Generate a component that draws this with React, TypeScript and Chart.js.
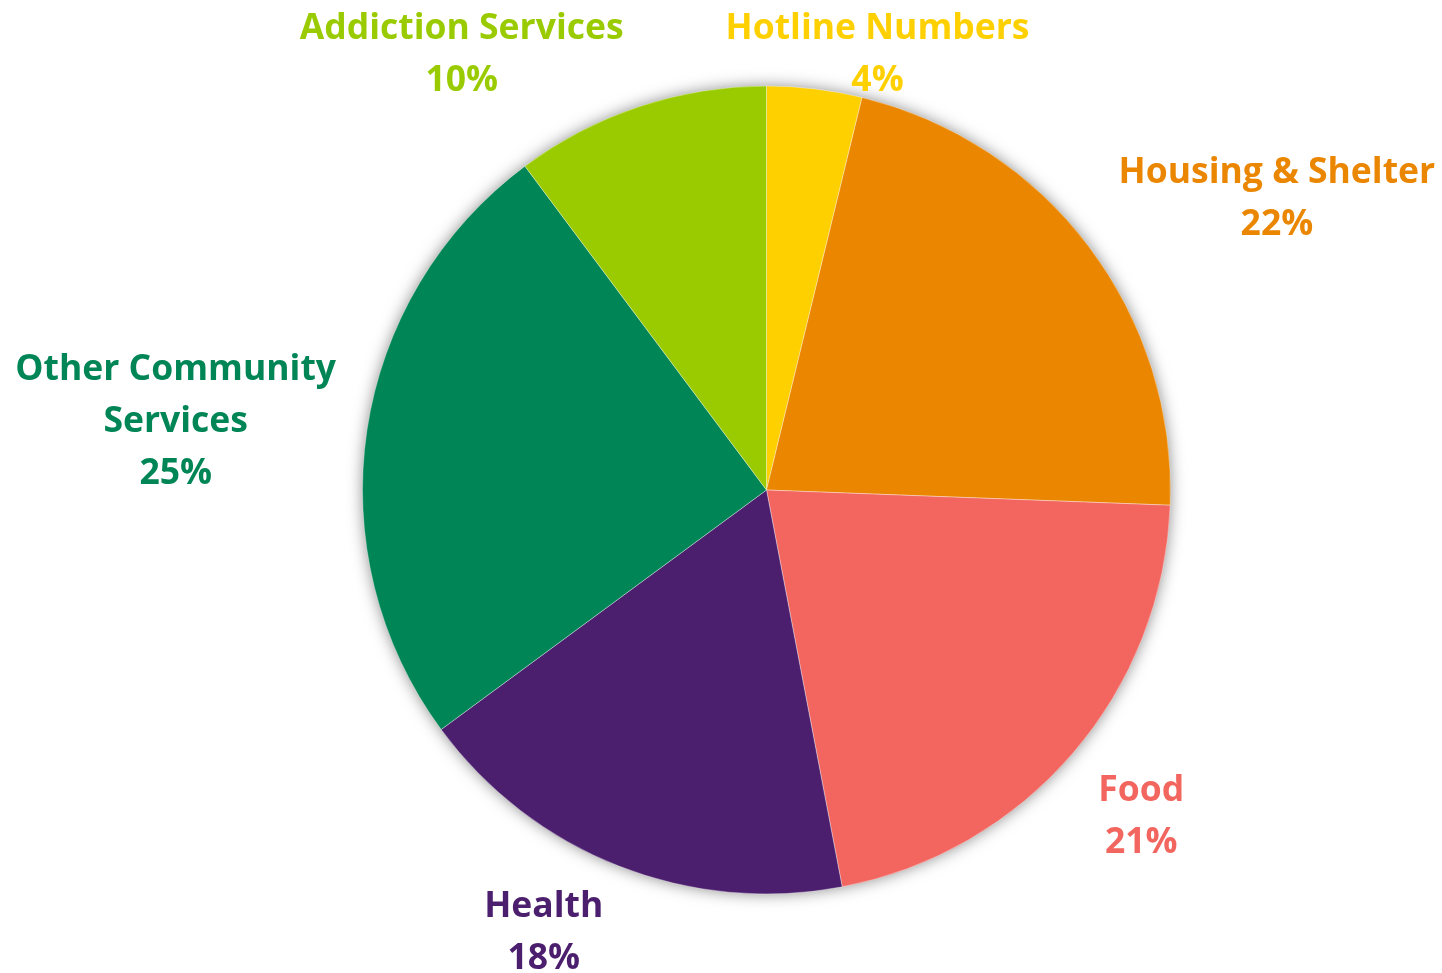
import React, { useEffect, useRef } from "react";
import { Chart, registerables } from "chart.js";

Chart.register(...registerables);

// ---- data ----
const categories = [
  "Hotline Numbers",
  "Housing & Shelter",
  "Food",
  "Health",
  "Other Community Services",
  "Addiction Services",
];
const labelLines = [
  ["Hotline Numbers"],
  ["Housing & Shelter"],
  ["Food"],
  ["Health"],
  ["Other Community", "Services"],
  ["Addiction Services"],
];
const shares = [3.8, 21.8, 21.4, 17.9, 24.9, 10.2];
const colors = ["#FFD000", "#EA8600", "#F2665F", "#4B1E6E", "#008556", "#99CB00"];

// ---- label layout (angle shift in degrees, distance as multiple of radius) ----
const labelAngleShift = [7.4, 7.2, 0.2, 5.4, -1.6, -16.5];
const labelRadial = [1.117, 1.457, 1.227, 1.222, 1.473, 1.32];

const FONT_SIZE = 35.5;
const LINE_H = 52;
const CAP_HALF = 12.7;

const shadowPlugin = {
  id: "pieShadow",
  beforeDatasetsDraw(chart: any) {
    const meta = chart.getDatasetMeta(0);
    if (!meta.data.length) return;
    const a: any = meta.data[0];
    const { x, y, outerRadius } = a.getProps(["x", "y", "outerRadius"], true);
    const ctx = chart.ctx;
    ctx.save();
    ctx.shadowColor = "rgba(0,0,0,0.5)";
    ctx.shadowBlur = 16;
    ctx.shadowOffsetX = 0;
    ctx.shadowOffsetY = 0;
    ctx.beginPath();
    ctx.arc(x, y, outerRadius - 1, 0, Math.PI * 2);
    ctx.fillStyle = "#ffffff";
    ctx.fill();
    ctx.restore();
  },
};

const labelPlugin = {
  id: "outsideLabels",
  afterDatasetsDraw(chart: any) {
    const meta = chart.getDatasetMeta(0);
    const ctx = chart.ctx;
    const total = shares.reduce((s, v) => s + v, 0);
    ctx.save();
    ctx.font = `bold ${FONT_SIZE}px "Open Sans", Lato, sans-serif`;
    ctx.textAlign = "center";
    ctx.textBaseline = "alphabetic";
    meta.data.forEach((arc: any, i: number) => {
      const { x, y, startAngle, endAngle, outerRadius } = arc.getProps(
        ["x", "y", "startAngle", "endAngle", "outerRadius"],
        true
      );
      const mid = (startAngle + endAngle) / 2 + (labelAngleShift[i] * Math.PI) / 180;
      const d = outerRadius * labelRadial[i];
      const cx = x + Math.cos(mid) * d;
      const cy = y + Math.sin(mid) * d;
      const pct = Math.round((shares[i] / total) * 100) + "%";
      const lines = [...labelLines[i], pct];
      const n = lines.length;
      ctx.fillStyle = colors[i];
      lines.forEach((t, j) => {
        const by = cy + (j - (n - 1) / 2) * LINE_H + CAP_HALF;
        ctx.fillText(t, cx, by);
      });
    });
    ctx.restore();
  },
};

export default function App() {
  const ref = useRef<HTMLCanvasElement | null>(null);
  useEffect(() => {
    document.body.style.margin = "0";
    if (!ref.current) return;
    const chart = new Chart(ref.current, {
      type: "pie",
      data: {
        labels: categories,
        datasets: [
          {
            data: shares,
            backgroundColor: colors,
            borderColor: "rgba(255,255,255,0.35)",
            borderWidth: 1,
          },
        ],
      },
      options: {
        animation: false,
        responsive: true,
        maintainAspectRatio: false,
        layout: { padding: { left: 362, right: 271, top: 85, bottom: 78 } },
        plugins: {
          legend: { display: false },
          tooltip: { enabled: false },
        },
      },
      plugins: [shadowPlugin, labelPlugin],
    });
    return () => chart.destroy();
  }, []);
  return (
    <div style={{ position: "absolute", left: 0, top: 0, width: 1442, height: 973, background: "#fff" }}>
      <canvas ref={ref} />
    </div>
  );
}
